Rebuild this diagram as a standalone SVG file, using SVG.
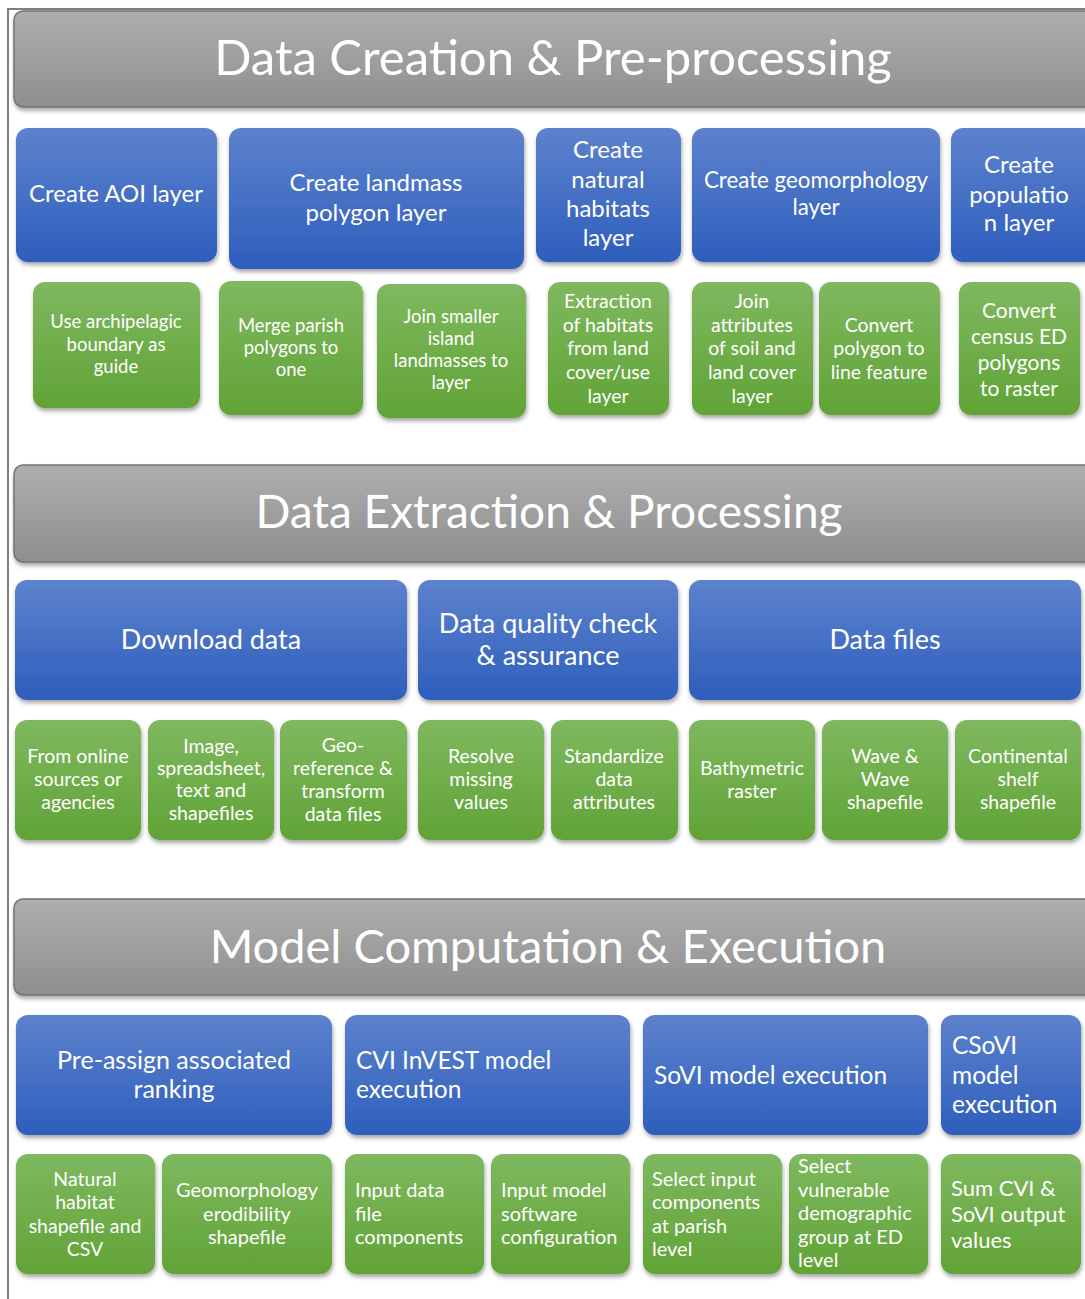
<svg xmlns="http://www.w3.org/2000/svg" width="1085" height="1299" viewBox="0 0 1085 1299">
<defs>
<linearGradient id="gGray" x1="0" y1="0" x2="0" y2="1"><stop offset="0" stop-color="#AEAEAE"/><stop offset="1" stop-color="#8F8F8F"/></linearGradient>
<linearGradient id="gBlue" x1="0" y1="0" x2="0" y2="1"><stop offset="0" stop-color="#5D82CD"/><stop offset="1" stop-color="#2E5EBC"/></linearGradient>
<linearGradient id="gGreen" x1="0" y1="0" x2="0" y2="1"><stop offset="0" stop-color="#7FB85F"/><stop offset="1" stop-color="#61A337"/></linearGradient>
<filter id="sh" x="-5%" y="-5%" width="110%" height="120%"><feDropShadow dx="1" dy="3" stdDeviation="2" flood-color="#000" flood-opacity="0.35"/></filter>
</defs>
<style>
.hdr{fill:url(#gGray);stroke:#737373;stroke-width:1.5;filter:url(#sh)}
.blue{fill:url(#gBlue);filter:url(#sh)}
.green{fill:url(#gGreen);filter:url(#sh)}
text{font-family:Lato,"Open Sans","Liberation Sans",sans-serif;fill:#fff}
.h{font-size:46px;text-anchor:middle}
.b{font-size:24px;text-anchor:middle}
.bl{font-size:24.5px}
.g{font-size:18.5px;text-anchor:middle}
.g2{font-size:19.5px;text-anchor:middle}
.gl{font-size:20px}
</style>
<rect width="1085" height="1299" fill="#fff"/>
<path d="M8,1299 V9 H1085" fill="none" stroke="#7F7F7F" stroke-width="2"/>

<g id="hdr1"><rect class="hdr" x="14" y="11" width="1090" height="96" rx="9"/><text class="h" x="553" y="75" style="font-size:49px">Data Creation &amp; Pre-processing</text></g>
<g id="hdr2"><rect class="hdr" x="14" y="465" width="1090" height="97" rx="9"/><text class="h" x="549" y="528">Data Extraction &amp; Processing</text></g>
<g id="hdr3"><rect class="hdr" x="14" y="899" width="1090" height="96" rx="9"/><text class="h" x="548" y="963" style="font-size:47px">Model Computation &amp; Execution</text></g>

<!-- Row 1 blue -->
<g id="aoi"><rect class="blue" x="16" y="128" width="201" height="134" rx="12"/><text class="b" x="116" y="202">Create AOI layer</text></g>
<g id="landmass"><rect class="blue" x="229" y="128" width="295" height="141" rx="12"/><text class="b" x="376" y="191">Create landmass</text><text class="b" x="376" y="221">polygon layer</text></g>
<g id="habitats"><rect class="blue" x="536" y="128" width="145" height="134" rx="12"/><text class="b" x="608" y="158">Create</text><text class="b" x="608" y="188">natural</text><text class="b" x="608" y="217">habitats</text><text class="b" x="608" y="246">layer</text></g>
<g id="geomorph"><rect class="blue" x="692" y="128" width="248" height="134" rx="12"/><text class="b" x="816" y="188" style="font-size:22.3px">Create geomorphology</text><text class="b" x="816" y="215" style="font-size:22.3px">layer</text></g>
<g id="population"><rect class="blue" x="951" y="128" width="145" height="134" rx="12"/><text class="b" x="1019" y="173">Create</text><text class="b" x="1019" y="203">populatio</text><text class="b" x="1019" y="231">n layer</text></g>

<!-- Row 1 green -->
<g id="archi"><rect class="green" x="33" y="282" width="167" height="126" rx="12"/><text class="g" x="116" y="328">Use archipelagic</text><text class="g" x="116" y="351">boundary as</text><text class="g" x="116" y="373">guide</text></g>
<g id="merge"><rect class="green" x="219" y="281" width="144" height="134" rx="12"/><text class="g" x="291" y="332">Merge parish</text><text class="g" x="291" y="354">polygons to</text><text class="g" x="291" y="376">one</text></g>
<g id="joinsmall"><rect class="green" x="377" y="284" width="149" height="134" rx="12"/><text class="g" x="451" y="323">Join smaller</text><text class="g" x="451" y="345">island</text><text class="g" x="451" y="367">landmasses to</text><text class="g" x="451" y="389">layer</text></g>
<g id="extract"><rect class="green" x="548" y="282" width="121" height="133" rx="12"/><text class="g2" x="608" y="308">Extraction</text><text class="g2" x="608" y="332">of habitats</text><text class="g2" x="608" y="355">from land</text><text class="g2" x="608" y="379">cover/use</text><text class="g2" x="608" y="403">layer</text></g>
<g id="joinattr"><rect class="green" x="692" y="282" width="121" height="133" rx="12"/><text class="g2" x="752" y="308">Join</text><text class="g2" x="752" y="332">attributes</text><text class="g2" x="752" y="355">of soil and</text><text class="g2" x="752" y="379">land cover</text><text class="g2" x="752" y="403">layer</text></g>
<g id="convpoly"><rect class="green" x="819" y="282" width="121" height="133" rx="12"/><text class="g2" x="879" y="332">Convert</text><text class="g2" x="879" y="355">polygon to</text><text class="g2" x="879" y="379">line feature</text></g>
<g id="convcensus"><rect class="green" x="959" y="282" width="121" height="133" rx="12"/><text class="g" x="1019" y="318" style="font-size:21px">Convert</text><text class="g" x="1019" y="344" style="font-size:21px">census ED</text><text class="g" x="1019" y="370" style="font-size:21px">polygons</text><text class="g" x="1019" y="396" style="font-size:21px">to raster</text></g>

<!-- Row 2 blue -->
<g id="download"><rect class="blue" x="15" y="580" width="392" height="120" rx="12"/><text class="b" x="211" y="649" style="font-size:27px">Download data</text></g>
<g id="quality"><rect class="blue" x="418" y="580" width="260" height="120" rx="12"/><text class="b" x="548" y="633" style="font-size:27px">Data quality check</text><text class="b" x="548" y="665" style="font-size:27px">&amp; assurance</text></g>
<g id="datafiles"><rect class="blue" x="689" y="580" width="392" height="120" rx="12"/><text class="b" x="885" y="649" style="font-size:27px">Data files</text></g>

<!-- Row 2 green -->
<g id="online"><rect class="green" x="15" y="720" width="126" height="120" rx="12"/><text class="g2" x="78" y="763">From online</text><text class="g2" x="78" y="786">sources or</text><text class="g2" x="78" y="809">agencies</text></g>
<g id="image"><rect class="green" x="148" y="720" width="126" height="120" rx="12"/><text class="g2" x="211" y="753">Image,</text><text class="g2" x="211" y="775">spreadsheet,</text><text class="g2" x="211" y="797">text and</text><text class="g2" x="211" y="820">shapefiles</text></g>
<g id="georef"><rect class="green" x="280" y="720" width="127" height="120" rx="12"/><text class="g2" x="343" y="752">Geo-</text><text class="g2" x="343" y="775">reference &amp;</text><text class="g2" x="343" y="798">transform</text><text class="g2" x="343" y="821">data files</text></g>
<g id="resolve"><rect class="green" x="418" y="720" width="126" height="120" rx="12"/><text class="g2" x="481" y="763">Resolve</text><text class="g2" x="481" y="786">missing</text><text class="g2" x="481" y="809">values</text></g>
<g id="standard"><rect class="green" x="551" y="720" width="127" height="120" rx="12"/><text class="g2" x="614" y="763">Standardize</text><text class="g2" x="614" y="786">data</text><text class="g2" x="614" y="809">attributes</text></g>
<g id="bathy"><rect class="green" x="689" y="720" width="126" height="120" rx="12"/><text class="g2" x="752" y="775">Bathymetric</text><text class="g2" x="752" y="798">raster</text></g>
<g id="wave"><rect class="green" x="822" y="720" width="126" height="120" rx="12"/><text class="g2" x="885" y="763">Wave &amp;</text><text class="g2" x="885" y="786">Wave</text><text class="g2" x="885" y="809">shapefile</text></g>
<g id="shelf"><rect class="green" x="955" y="720" width="126" height="120" rx="12"/><text class="g2" x="1018" y="763">Continental</text><text class="g2" x="1018" y="786">shelf</text><text class="g2" x="1018" y="809">shapefile</text></g>

<!-- Row 3 blue -->
<g id="preassign"><rect class="blue" x="16" y="1015" width="316" height="120" rx="12"/><text class="b" x="174" y="1069" style="font-size:25px">Pre-assign associated</text><text class="b" x="174" y="1098" style="font-size:25px">ranking</text></g>
<g id="cvi"><rect class="blue" x="345" y="1015" width="285" height="120" rx="12"/><text class="bl" x="356" y="1069">CVI InVEST model</text><text class="bl" x="356" y="1098">execution</text></g>
<g id="sovi"><rect class="blue" x="643" y="1015" width="285" height="120" rx="12"/><text class="bl" x="654" y="1084">SoVI model execution</text></g>
<g id="csovi"><rect class="blue" x="941" y="1015" width="140" height="120" rx="12"/><text class="bl" x="952" y="1054">CSoVI</text><text class="bl" x="952" y="1084">model</text><text class="bl" x="952" y="1113">execution</text></g>

<!-- Row 3 green -->
<g id="nathab"><rect class="green" x="16" y="1154" width="139" height="120" rx="12"/><text class="g2" x="85" y="1186">Natural</text><text class="g2" x="85" y="1209">habitat</text><text class="g2" x="85" y="1233">shapefile and</text><text class="g2" x="85" y="1256">CSV</text></g>
<g id="geoero"><rect class="green" x="162" y="1154" width="170" height="120" rx="12"/><text class="g2" x="247" y="1197" style="font-size:20px">Geomorphology</text><text class="g2" x="247" y="1221" style="font-size:20px">erodibility</text><text class="g2" x="247" y="1244" style="font-size:20px">shapefile</text></g>
<g id="inputdata"><rect class="green" x="345" y="1154" width="139" height="120" rx="12"/><text class="gl" x="355" y="1197">Input data</text><text class="gl" x="355" y="1221">file</text><text class="gl" x="355" y="1244">components</text></g>
<g id="inputmodel"><rect class="green" x="491" y="1154" width="139" height="120" rx="12"/><text class="gl" x="501" y="1197">Input model</text><text class="gl" x="501" y="1221">software</text><text class="gl" x="501" y="1244">configuration</text></g>
<g id="selinput"><rect class="green" x="643" y="1154" width="139" height="120" rx="12"/><text class="gl" x="652" y="1186">Select input</text><text class="gl" x="652" y="1209">components</text><text class="gl" x="652" y="1233">at parish</text><text class="gl" x="652" y="1256">level</text></g>
<g id="selvuln"><rect class="green" x="789" y="1154" width="139" height="120" rx="12"/><text class="gl" x="798" y="1173">Select</text><text class="gl" x="798" y="1197">vulnerable</text><text class="gl" x="798" y="1220">demographic</text><text class="gl" x="798" y="1244">group at ED</text><text class="gl" x="798" y="1267">level</text></g>
<g id="sumcvi"><rect class="green" x="941" y="1154" width="140" height="120" rx="12"/><text class="gl" x="951" y="1196" style="font-size:22px">Sum CVI &amp;</text><text class="gl" x="951" y="1222" style="font-size:22px">SoVI output</text><text class="gl" x="951" y="1248" style="font-size:22px">values</text></g>

<g id="connectors"></g>
</svg>
